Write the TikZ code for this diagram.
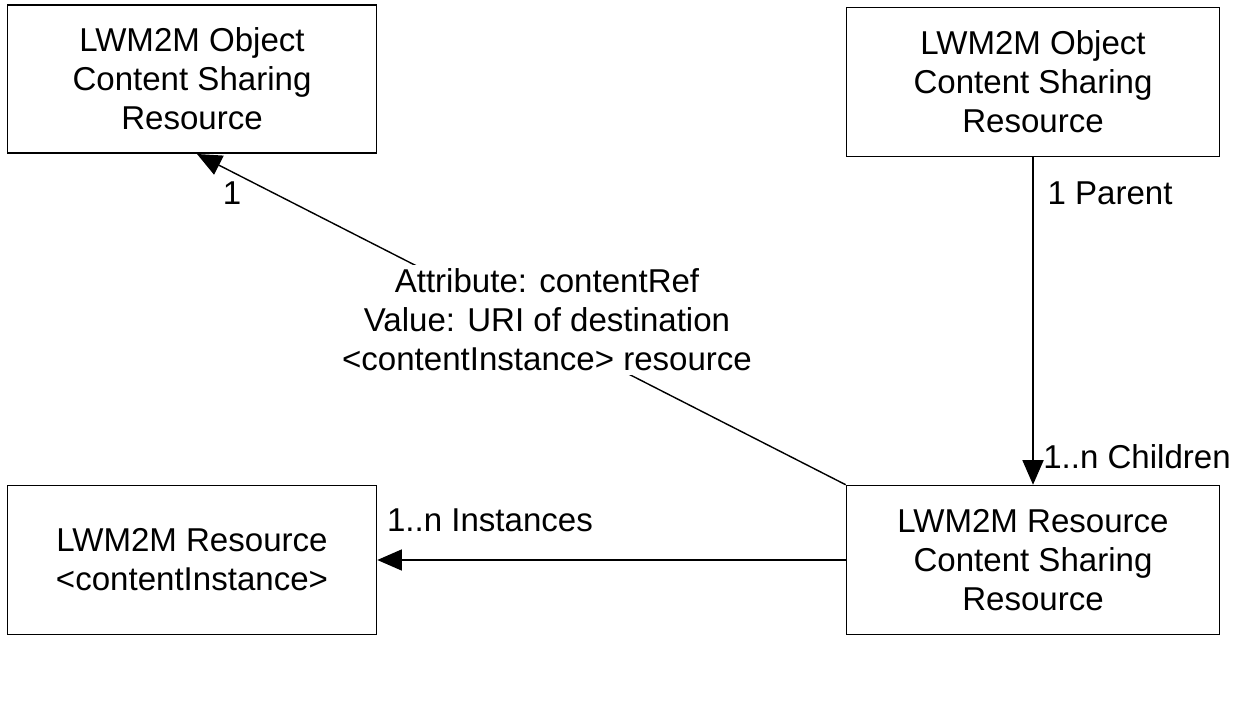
\documentclass[tikz,border=0pt]{standalone}
\usepackage{fontspec}
\setmainfont{Liberation Sans}
\usetikzlibrary{arrows.meta}
\begin{document}
\begin{tikzpicture}[x=0.01cm,y=-0.01cm,
  box/.style={draw,line width=0.4pt,minimum width=369\pgflinewidth,align=center,font=\fontsize{9.4}{11.1}\selectfont},
  lbl/.style={font=\fontsize{9.4}{11.1}\selectfont,inner sep=1pt},
  arr/.style={line width=0.4pt,-{Triangle[length=7pt,width=6pt]}}]
\useasboundingbox (0,0) rectangle (1237,704);
\node[draw,minimum width=3.69cm,minimum height=1.48cm,align=center,font=\fontsize{9.4}{11.1}\selectfont] (tl) at (192,79) {LWM2M Object\\Content Sharing\\Resource};
\node[draw,minimum width=3.73cm,minimum height=1.49cm,align=center,font=\fontsize{9.4}{11.1}\selectfont] (tr) at (1033,82) {LWM2M Object\\Content Sharing\\Resource};
\node[draw,minimum width=3.69cm,minimum height=1.49cm,align=center,font=\fontsize{9.4}{11.1}\selectfont] (bl) at (192,560) {LWM2M Resource\\<contentInstance>};
\node[draw,minimum width=3.73cm,minimum height=1.49cm,align=center,font=\fontsize{9.4}{11.1}\selectfont] (br) at (1033,560) {LWM2M Resource\\Content Sharing\\Resource};
\coordinate (tip) at (197,154);
\draw[arr] (br.north west) -- (tip);
\node[lbl,fill=white,align=center] (attr) at (547,320) {Attribute: contentRef\\Value: URI of destination\\<contentInstance> resource};
\draw[arr] (tr.south) -- (br.north);
\draw[arr] (br.west |- bl.east) -- (bl.east);
\node[lbl] (n1) at (232,193) {1};
\node[lbl] (par) at (1110,193) {1 Parent};
\node[lbl] (ch) at (1137,457) {1..n Children};
\node[lbl] (ins) at (490,520) {1..n Instances};
\end{tikzpicture}
\end{document}
